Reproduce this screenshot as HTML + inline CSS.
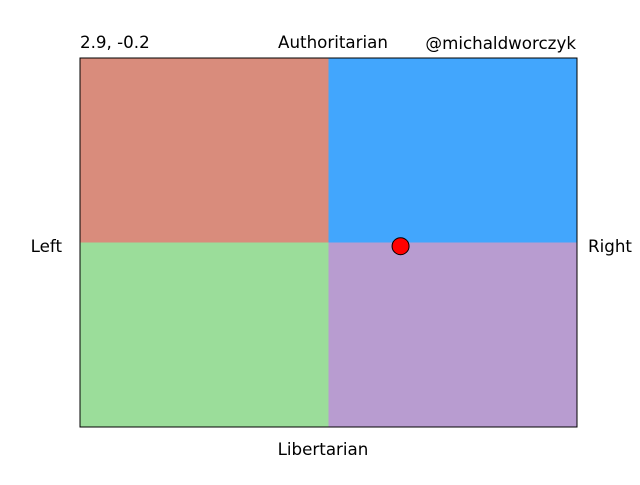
<!DOCTYPE html>
<html><head><meta charset="utf-8"><style>
body{margin:0;background:#fff;width:640px;height:480px;overflow:hidden}
svg text{font-family:"DejaVu Sans","Liberation Sans",sans-serif;font-size:16.7px;fill:#000}
</style></head><body>
<svg id="chart" width="640" height="480">
<text x="80" y="48">2.9, -0.2</text>
<text x="333" y="48" text-anchor="middle">Authoritarian</text>
<text x="576" y="49" text-anchor="end">@michaldworczyk</text>
<text x="62" y="252" text-anchor="end">Left</text>
<text x="588" y="252">Right</text>
<text x="323" y="455" text-anchor="middle">Libertarian</text>
<g id="plot"></g>
</svg>
<script>
const xRange=[-10,10];
const yRange=[-10,10];
const quadrantNames=['authoritarian-left','authoritarian-right','libertarian-left','libertarian-right'];
const quadrantColors=['#d98c7c','#42a6fd','#9bdd9a','#b89cd0'];
const pointX=[2.9];
const pointY=[-0.2];
const L=80,R=577,T=58,B=427;
function sx(v){return L+(v-xRange[0])/(xRange[1]-xRange[0])*(R-L);}
function sy(v){return B-(v-yRange[0])/(yRange[1]-yRange[0])*(B-T);}
const ns='http://www.w3.org/2000/svg';
const g=document.getElementById('plot');
const quads=[[xRange[0],0,0,yRange[1]],[0,xRange[1],0,yRange[1]],[xRange[0],0,yRange[0],0],[0,xRange[1],yRange[0],0]];
quads.forEach((q,i)=>{
 const r=document.createElementNS(ns,'rect');
 r.setAttribute('x',sx(q[0]));r.setAttribute('width',sx(q[1])-sx(q[0]));
 r.setAttribute('y',sy(q[3]));r.setAttribute('height',sy(q[2])-sy(q[3]));
 r.setAttribute('fill',quadrantColors[i]);
 
 
 g.appendChild(r);
});
const frame=document.createElementNS(ns,'rect');
frame.setAttribute('x',L);frame.setAttribute('y',T);frame.setAttribute('width',R-L);frame.setAttribute('height',B-T);
frame.setAttribute('fill','none');frame.setAttribute('stroke','#000');frame.setAttribute('stroke-width','1');


g.appendChild(frame);
pointX.forEach((v,i)=>{
 const c=document.createElementNS(ns,'circle');
 c.setAttribute('cx',sx(v));c.setAttribute('cy',sy(pointY[i]));c.setAttribute('r',8.5);
 c.setAttribute('fill','#ff0000');c.setAttribute('stroke','#000');c.setAttribute('stroke-width','1');
 
 
 g.appendChild(c);
});
</script>
</body></html>
